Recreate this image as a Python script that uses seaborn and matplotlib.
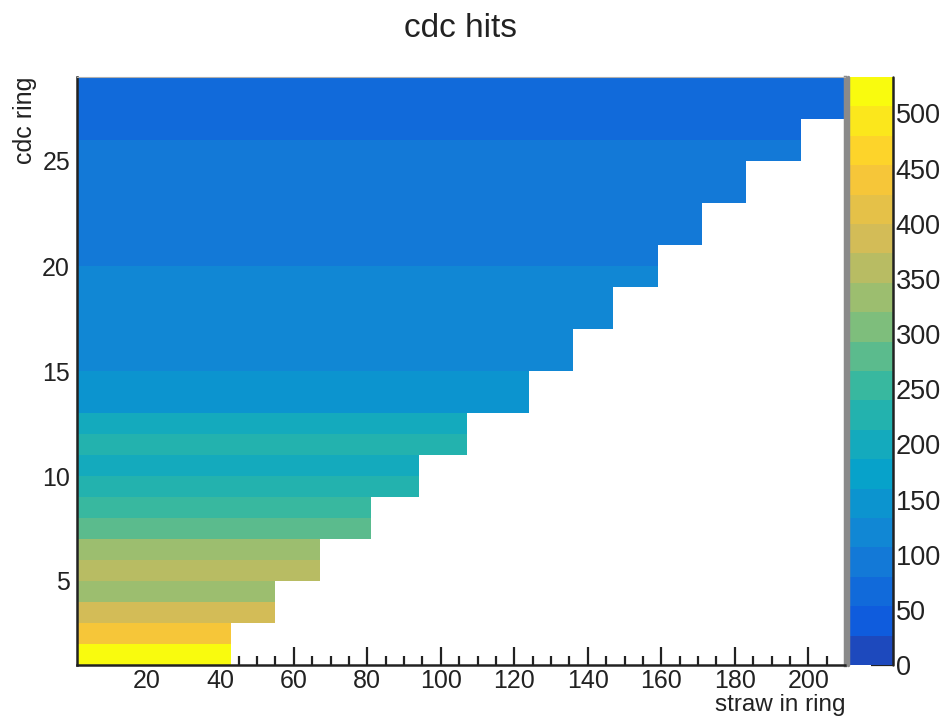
import numpy as np
import pandas as pd
import matplotlib
matplotlib.use("Agg")
import matplotlib.pyplot as plt
from matplotlib.colors import ListedColormap
from matplotlib.lines import Line2D
from matplotlib.ticker import FixedLocator
import seaborn as sns

# ---- data -------------------------------------------------------------
rings = list(range(1, 29))
straws_per_ring = [42, 42, 54, 54, 66, 66, 80, 80, 93, 93, 106, 106,
                   123, 123, 135, 135, 146, 146, 158, 158, 170, 170,
                   182, 182, 197, 197, 209, 209]
hits_per_straw = [510, 440, 390, 320, 355, 325, 270, 245, 215, 195, 220, 205,
                  150, 140, 130, 130, 125, 120, 115, 105, 100, 95, 90, 85,
                  80, 75, 70, 65]
x_ticks = [20, 40, 60, 80, 100, 120, 140, 160, 180, 200]
y_ticks = [5, 10, 15, 20, 25]
z_ticks = [0, 50, 100, 150, 200, 250, 300, 350, 400, 450, 500]
z_max = 533
n_contours = 20

# ---- style ------------------------------------------------------------
sns.set_style("white")
plt.rcParams["font.family"] = ["Liberation Sans", "DejaVu Sans"]
text_col = "#222222"

# ---- histogram table: rows = ring, columns = straw -----------------------
n_straws = max(straws_per_ring)
straw_ids = list(range(1, n_straws + 1))
grid = np.full((len(rings), n_straws), np.nan)
for i, (n, v) in enumerate(zip(straws_per_ring, hits_per_straw)):
    grid[i, :n] = v
df = pd.DataFrame(grid, index=rings, columns=straw_ids)

# ---- ROOT "bird" palette, quantised into contour bands ----------------------
stops = [0.0, 0.125, 0.25, 0.375, 0.5, 0.625, 0.75, 0.875, 1.0]
red = [0.2082, 0.0592, 0.0780, 0.0232, 0.1802, 0.5301, 0.8186, 0.9956, 0.9764]
green = [0.1664, 0.3599, 0.5041, 0.6419, 0.7178, 0.7492, 0.7328, 0.7862, 0.9832]
blue = [0.5293, 0.8684, 0.8385, 0.7914, 0.6425, 0.4662, 0.3499, 0.1968, 0.0539]
band_pos = [(i + 1.6) / (n_contours + 0.6) for i in range(n_contours)]
band_colors = np.column_stack([np.interp(band_pos, stops, red),
                               np.interp(band_pos, stops, green),
                               np.interp(band_pos, stops, blue)])
cmap = ListedColormap(band_colors)

# ---- figure -----------------------------------------------------------
W, H = 944, 720
fig = plt.figure(figsize=(W / 100, H / 100), dpi=100)
ax_l, ax_r, ax_t, ax_b = 77, 845, 77, 665
ax = fig.add_axes([ax_l / W, 1 - ax_b / H, (ax_r - ax_l) / W, (ax_b - ax_t) / H])
cax = fig.add_axes([848 / W, 1 - ax_b / H, 45 / W, (ax_b - ax_t) / H])

sns.heatmap(df, ax=ax, cbar_ax=cax, cmap=cmap, vmin=0, vmax=z_max,
            mask=df.isna(), xticklabels=False, yticklabels=False,
            linewidths=0)
ax.invert_yaxis()  # ring 1 at the bottom

# heatmap cell k covers [k, k+1]; the first straw / ring is number 1
x0, y0 = straw_ids[0], rings[0]
ax.xaxis.set_major_locator(FixedLocator([v - x0 for v in x_ticks]))
ax.set_xticklabels([str(v) for v in x_ticks])
ax.xaxis.set_minor_locator(FixedLocator(
    [v - x0 for v in range(5, n_straws + 1, 5) if v not in x_ticks]))
ax.yaxis.set_major_locator(FixedLocator([v - y0 for v in y_ticks]))
ax.set_yticklabels([str(v) for v in y_ticks])
ax.yaxis.set_minor_locator(FixedLocator(
    [v - y0 for v in range(2, len(rings) + 1) if v not in y_ticks]))

ax.tick_params(axis="x", which="major", direction="in", length=12.7, width=1.6,
               color=text_col, labelsize=18, labelcolor=text_col, pad=3,
               bottom=True, top=False)
ax.tick_params(axis="x", which="minor", direction="in", length=6.3, width=1.6,
               color=text_col, bottom=True, top=False)
ax.tick_params(axis="y", which="major", direction="in", length=16.6, width=1.6,
               color=text_col, labelsize=18, labelcolor=text_col, pad=5,
               left=True, right=False, labelrotation=0)
ax.tick_params(axis="y", which="minor", direction="in", length=8.3, width=1.6,
               color=text_col, left=True, right=False)

for side, sp in ax.spines.items():
    sp.set_visible(True)
    if side in ("left", "bottom"):
        sp.set_color(text_col)
        sp.set_linewidth(1.8)
    elif side == "right":
        sp.set_color("#8a8a8a")
        sp.set_linewidth(2.5)
    else:
        sp.set_color("#b0b0b0")
        sp.set_linewidth(0.8)

ax.set_xlabel("straw in ring", fontsize=17.5, color=text_col, loc="right")
ax.xaxis.set_label_coords(1.0, -0.049)
ax.set_ylabel("cdc ring", fontsize=18, color=text_col, loc="top")
ax.yaxis.set_label_coords(-0.052, 1.0)

fig.text((ax_l + ax_r) / 2 / W, 1 - 37 / H, "cdc hits", ha="center",
         va="baseline", fontsize=24, color=text_col)

# ---- palette axis -------------------------------------------------------
cb = ax.collections[0].colorbar
cb.set_ticks(z_ticks)
cb.set_ticklabels([str(v) for v in z_ticks])
cb.outline.set_visible(False)
cax.minorticks_off()
cax.tick_params(axis="y", direction="in", length=16, width=1.6,
                color=text_col, labelsize=19.5, labelcolor=text_col, pad=2,
                right=True, left=False)
cax.add_artist(Line2D([1, 1], [0, 1], transform=cax.transAxes,
                      color=text_col, lw=1.8, clip_on=False))
cax.add_artist(Line2D([0, 0], [0, 1], transform=cax.transAxes,
                      color="#8a8a8a", lw=2.5, clip_on=False))

fig.savefig("out.png", dpi=100, facecolor="white")
